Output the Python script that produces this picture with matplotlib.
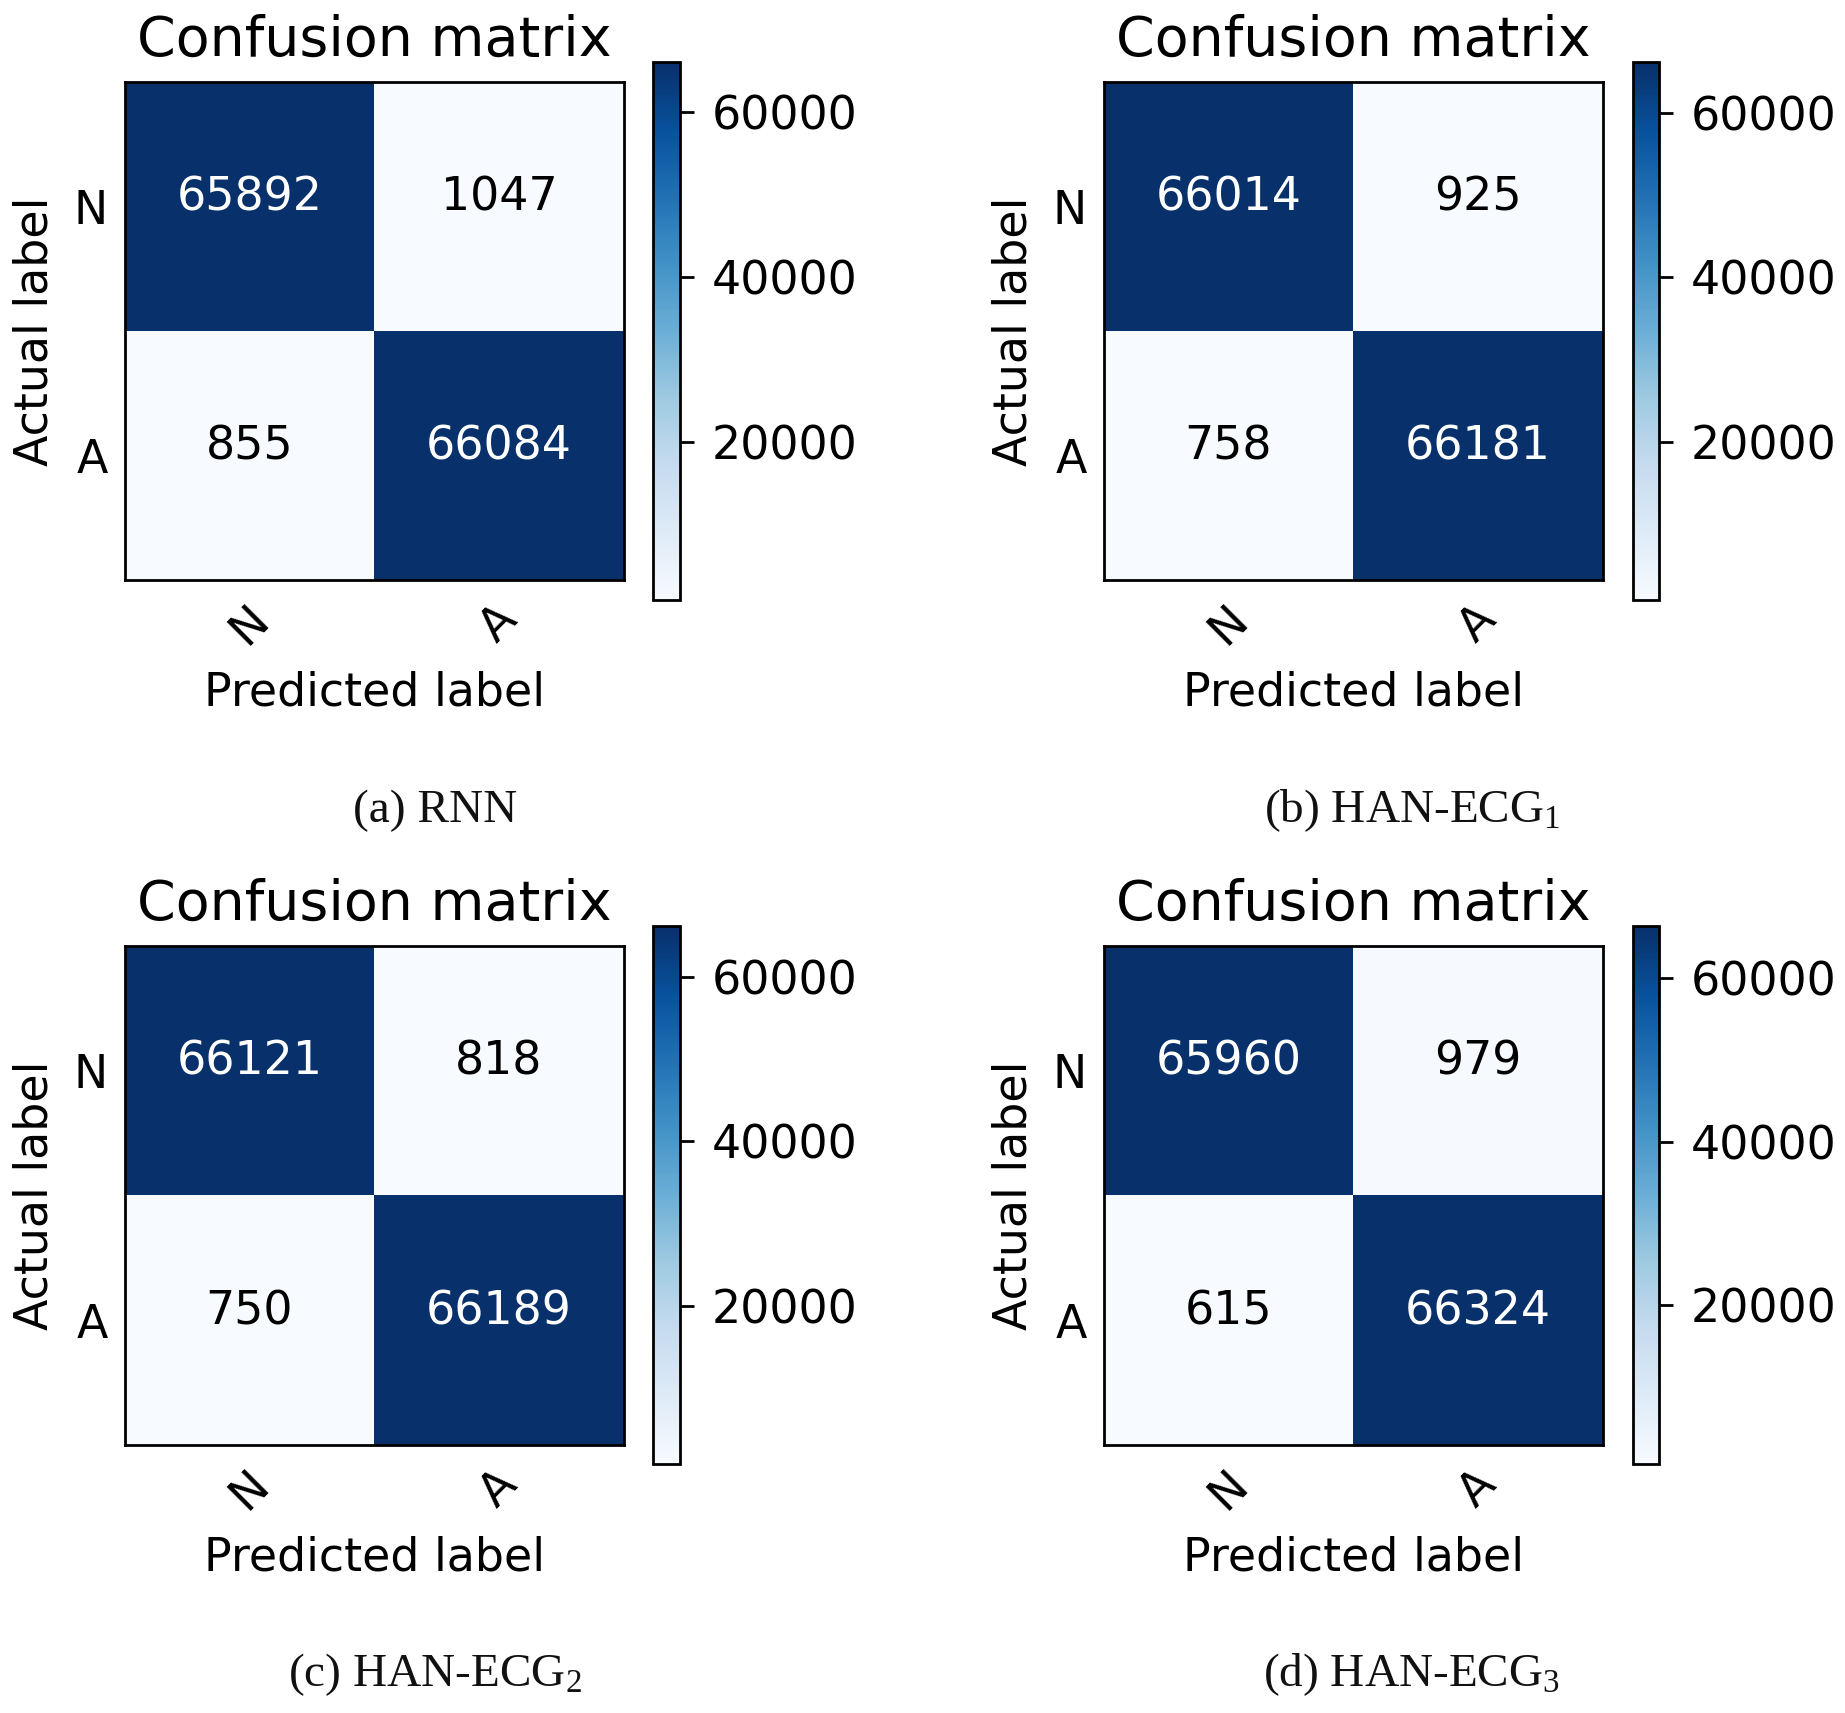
import numpy as np
import matplotlib
matplotlib.use("Agg")
import matplotlib.pyplot as plt

plt.rcParams['font.family'] = ['DejaVu Sans']
plt.rcParams['mathtext.fontset'] = 'custom'
plt.rcParams['mathtext.rm'] = 'Liberation Serif'
plt.rcParams['mathtext.it'] = 'Liberation Serif:italic'

classes = ["N", "A"]
cm_rnn = [[65892, 1047], [855, 66084]]
cm_han1 = [[66014, 925], [758, 66181]]
cm_han2 = [[66121, 818], [750, 66189]]
cm_han3 = [[65960, 979], [615, 66324]]
captions = ["(a) RNN", r"(b) HAN-ECG$_{1}$", r"(c) HAN-ECG$_{2}$", r"(d) HAN-ECG$_{3}$"]
cbar_ticks = [20000, 40000, 60000]

W, H = 1845, 1713
fig = plt.figure(figsize=(W / 100, H / 100), dpi=100)

def frac(left, right, top, bottom):
    return [left / W, 1 - bottom / H, (right - left) / W, (bottom - top) / H]

layouts = [
    # ax box, cbar box, caption x, caption y
    ((124.7, 623.6, 82.4, 580.1), (653, 680, 62, 600), 435, 811),
    ((1103.7, 1602.7, 82.4, 580.1), (1633, 1659, 62, 600), 1412, 811),
    ((124.7, 623.6, 946, 1445), (653, 680, 926, 1464), 435, 1675),
    ((1103.7, 1602.7, 946, 1445), (1633, 1659, 926, 1464), 1412, 1675),
]

FS = 33
for cm, cap, (axb, cbb, cx, cy) in zip([cm_rnn, cm_han1, cm_han2, cm_han3], captions, layouts):
    cm = np.array(cm)
    ax = fig.add_axes(frac(*axb))
    im = ax.imshow(cm, interpolation='nearest', cmap='Blues', aspect='auto')
    ax.set_title("Confusion matrix", fontsize=40, pad=19)
    ax.set_xticks(range(len(classes)))
    ax.set_yticks(range(len(classes)))
    ax.set_xticklabels(classes, rotation=45, fontsize=FS)
    ax.set_yticklabels(classes, fontsize=FS)
    ax.tick_params(length=0, pad=12)
    thresh = cm.max() / 2.0
    for i in range(cm.shape[0]):
        for j in range(cm.shape[1]):
            ax.text(j, i - 0.035, str(cm[i, j]), ha='center', va='center', fontsize=FS,
                    color='white' if cm[i, j] > thresh else 'black')
    ax.set_ylabel("Actual label", fontsize=FS, labelpad=12)
    ax.set_xlabel("Predicted label", fontsize=FS, labelpad=13)
    for s in ax.spines.values():
        s.set_linewidth(2)
    cax = fig.add_axes(frac(*cbb))
    cb = fig.colorbar(im, cax=cax, ticks=cbar_ticks)
    cb.ax.tick_params(labelsize=FS, length=10, width=2, pad=13)
    cb.outline.set_linewidth(2)
    fig.text(cx / W, 1 - cy / H, cap, ha='center', va='center', fontsize=34,
             family='Liberation Serif', color='#111111')

fig.savefig("out.png", dpi=100)
